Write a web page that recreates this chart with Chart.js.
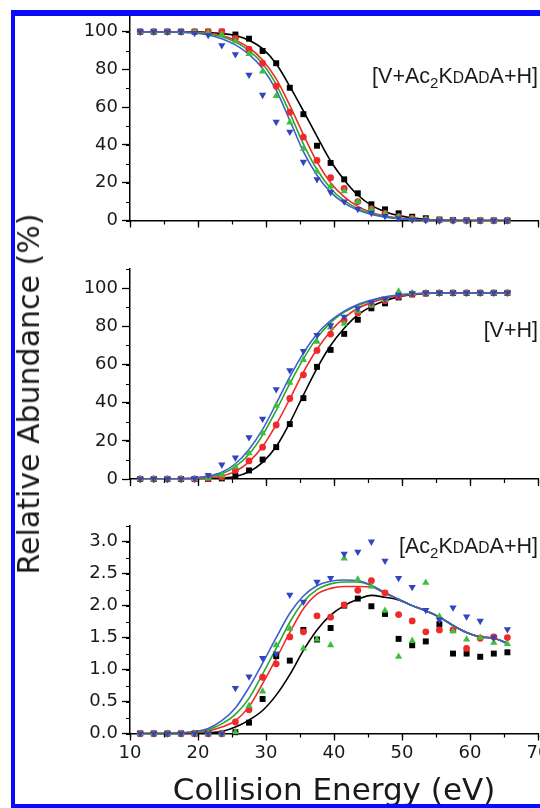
<!DOCTYPE html>
<html>
<head>
<meta charset="utf-8">
<script src="https://cdn.jsdelivr.net/npm/chart.js@4.4.1/dist/chart.umd.min.js"></script>
<style>
  html, body { margin: 0; padding: 0; background: #fff; overflow: hidden; }
  #page { position: relative; width: 540px; height: 808px; overflow: hidden; font-family: "DejaVu Sans", sans-serif; color: #1a1a1a; }
  canvas { position: absolute; left: 0; }
  .tag { position: absolute; right: 2px; font-family: "Liberation Sans", Arial, sans-serif; font-size: 21.5px; line-height: 21.5px; white-space: nowrap; }
  .tag sub { font-size: 15px; line-height: 0; vertical-align: -5px; }
  .sc { font-size: 15.6px; }
  #ytitle { position: absolute; left: 29px; top: 394px; transform: translate(-50%, -50%) rotate(-90deg); font-size: 30px; line-height: 30px; white-space: nowrap; }
  .bar { position: absolute; background: #0a0aff; }
</style>
</head>
<body>
<div id="page">
  <canvas id="c1" width="540" height="250" style="top:0"></canvas>
  <canvas id="c2" width="540" height="260" style="top:250px"></canvas>
  <canvas id="c3" width="540" height="298" style="top:510px"></canvas>

  <div class="tag" style="top:66px">[V+Ac<sub>2</sub>K<span class="sc">D</span>A<span class="sc">D</span>A+H]</div>
  <div class="tag" style="top:320px">[V+H]</div>
  <div class="tag" style="top:536px">[Ac<sub>2</sub>K<span class="sc">D</span>A<span class="sc">D</span>A+H]</div>
  <div id="ytitle">Relative Abundance (%)</div>

  <div class="bar" style="left:11px; top:10px; width:4px; height:798px"></div>
  <div class="bar" style="left:11px; top:10px; width:529px; height:6px"></div>
  <div class="bar" style="left:11px; top:804px; width:529px; height:4px"></div>
</div>

<script>
// collision energies (eV)
const energy = [11.5, 13.5, 15.5, 17.5, 19.5, 21.5, 23.5, 25.5, 27.5, 29.5, 31.5, 33.5, 35.5, 37.5,
                39.5, 41.5, 43.5, 45.5, 47.5, 49.5, 51.5, 53.5, 55.5, 57.5, 59.5, 61.5, 63.5, 65.5];

// [V+Ac2KDADA+H] - measured points
const complexSquare = [100,100,100,100,100,100,100,98.5,96.3,89.8,83.3,70.3,56.3,39.6,30.5,21.8,14.4,8.6,5.9,3.8,2.0,1.2,0.5,0.2,0.1,0,0,0];
const complexCircle = [100,100,100,100,100,100,100,96.5,90.7,83.3,71.1,57.4,44.2,31.8,22.7,17,10,6.2,3.8,2.1,1.1,0.5,0.2,0.1,0,0,0,0];
const complexUp     = [100,100,100,100,100,99.5,98.5,95,88.2,79,66,52,38,26,18,15.5,10,6,3.5,2,1,0.5,0.2,0.1,0,0,0,0];
const complexDown   = [100,100,100,100,99.3,98.2,92.8,88,77.2,66.5,52.2,47,31,21.8,15,10,6,4,2.3,1.1,0.4,0.1,0,0,0,0,0,0];
// [V+Ac2KDADA+H] - fitted curves
const complexSquareFit = [100,100,100,100,99.9,99.6,99,98,95.5,91,83,71,58,44.5,31.5,21.5,13.5,8,4.7,2.6,1.4,0.7,0.3,0.1,0,0,0,0];
const complexCircleFit = [100,100,100,99.9,99.7,99.2,98,95.5,91.5,85,75,61,45.5,31,20,12.5,7.5,4.3,2.4,1.3,0.7,0.3,0.1,0,0,0,0,0];
const complexUpFit     = [100,100,100,99.8,99.5,98.8,97.3,94.5,90,83,72,57,40.5,27,17,10.5,6.3,3.7,2.1,1.2,0.6,0.3,0.1,0,0,0,0,0];
const complexDownFit   = [100,100,99.9,99.8,99.3,98.3,96.3,93,88,80.5,69,53,36.5,24,15,9.2,5.5,3.2,1.8,1,0.5,0.2,0.1,0,0,0,0,0];

// [V+H]
const vancSquare = [0,0,0,0,0,0,0.3,1.6,4.5,10.2,16.7,28.8,42.4,58.8,67.7,76.1,83.5,89.5,92.1,95.2,96.8,97.3,97.5,97.6,97.6,97.6,97.6,97.6];
const vancCircle = [0,0,0,0,0,0.3,1,4.5,9.5,16.7,28.3,42.2,54.6,67.4,76,83.2,87,91.3,93.5,95.8,97,97.4,97.6,97.6,97.6,97.6,97.6,97.6];
const vancUp     = [0,0,0,0,0,0.5,2,6.5,13.5,24,38.5,50.5,62.5,72,79.5,81.5,88,91,94,98.3,97.6,97.6,97.6,97.6,97.6,97.6,97.6,97.6];
const vancDown   = [0,0,0,0,0.2,2,7.5,11.2,21.8,31.5,47,57,67,75.5,80.5,85,89.5,92.5,94.5,96.5,97.3,97.6,97.6,97.6,97.6,97.6,97.6,97.6];
const vancSquareFit = [0,0,0,0,0,0.2,0.5,1.3,3.8,8.7,17,29.5,44,58,70,79,86,90.5,93.5,95.5,96.6,97.2,97.5,97.6,97.6,97.6,97.6,97.6];
const vancCircleFit = [0,0,0,0,0.2,0.6,1.6,4,9,17,28.5,42,56,68,77.5,84.5,89.5,92.5,94.7,96,96.9,97.3,97.5,97.6,97.6,97.6,97.6,97.6];
const vancUpFit     = [0,0,0,0.1,0.4,1,2.7,6.5,13,23,36,50,63,74,82,87.5,91,93.5,95.3,96.4,97,97.4,97.6,97.6,97.6,97.6,97.6,97.6];
const vancDownFit   = [0,0,0,0.2,0.6,1.5,3.5,8,15.5,26,39.5,53.5,66,76,83,88,91.5,93.8,95.5,96.5,97.1,97.4,97.6,97.6,97.6,97.6,97.6,97.6];

// [Ac2KDADA+H]
const ligandSquare = [0,0,0,0,0,0,0,0.02,0.17,0.54,1.21,1.14,1.62,1.47,1.65,2.0,2.11,1.99,1.87,1.48,1.38,1.44,1.71,1.25,1.25,1.2,1.25,1.27];
const ligandCircle = [0,0,0,0,0,0,0,0.18,0.37,0.88,1.09,1.51,1.59,1.84,1.82,2.01,2.24,2.39,2.2,1.86,1.76,1.59,1.62,1.62,1.33,1.49,1.51,1.5];
const ligandUp     = [0,0,0,0,0,0,0,0.02,0.43,0.66,1.38,1.64,1.33,1.47,1.38,2.74,2.41,2.3,1.92,1.2,1.45,2.36,1.83,1.6,1.47,1.5,1.42,1.4];
const ligandDown   = [0,0,0,0,0,0,0,0.71,0.89,1.18,1.25,2.17,2.06,2.37,2.43,2.81,2.84,3.0,2.7,2.43,2.29,1.93,1.78,1.97,1.83,1.76,1.5,1.63];
const ligandSquareFit = [0,0,0,0,0,0.01,0.03,0.1,0.21,0.36,0.6,0.92,1.3,1.62,1.85,2.0,2.1,2.16,2.13,2.09,2.0,1.92,1.82,1.69,1.58,1.51,1.49,1.41];
const ligandCircleFit = [0,0,0,0,0.01,0.04,0.1,0.2,0.42,0.78,1.17,1.58,1.95,2.18,2.27,2.3,2.3,2.29,2.19,2.1,2.0,1.92,1.82,1.69,1.58,1.51,1.49,1.41];
const ligandUpFit     = [0,0,0,0.01,0.02,0.06,0.15,0.3,0.55,0.93,1.33,1.74,2.06,2.25,2.34,2.37,2.37,2.31,2.2,2.1,2.0,1.92,1.82,1.69,1.58,1.51,1.49,1.41];
const ligandDownFit   = [0,0,0,0.01,0.03,0.08,0.2,0.4,0.72,1.1,1.5,1.88,2.15,2.31,2.38,2.4,2.39,2.32,2.2,2.1,2.0,1.92,1.82,1.69,1.58,1.51,1.49,1.41];

const xTicks = [10, 20, 30, 40, 50, 60, 70];

const colBlack = '#000000';
const colRed = '#f02a2a';
const colGreen = '#3cbf3c';
const colBlue = '#3344c0';
const fitGreen = '#28a828';
const fitBlue = '#3d5fd0';

function pairs(ys) {
    return energy.map((e, i) => ({ x: e, y: ys[i] }));
}

// small ticks between the labelled ones
const minorTicks = {
    id: 'minorTicks',
    afterDraw(chart, args, opts) {
        const ctx = chart.ctx;
        ctx.save();
        ctx.strokeStyle = '#000';
        ctx.lineWidth = 1.2;
        ctx.beginPath();
        const sx = chart.scales.x;
        for (let v = sx.min; v <= sx.max + 1e-9; v += opts.x) {
            const p = Math.round(sx.getPixelForValue(v)) + 0.5;
            ctx.moveTo(p, sx.top);
            ctx.lineTo(p, sx.top + 4);
        }
        const sy = chart.scales.y;
        for (let v = sy.min; v <= sy.max + 1e-9; v += opts.y) {
            const p = Math.round(sy.getPixelForValue(v)) + 0.5;
            ctx.moveTo(sy.right, p);
            ctx.lineTo(sy.right - 4, p);
        }
        ctx.stroke();
        ctx.restore();
    }
};

function makePanel(id, pts, fits, cfg) {
    const tickFont = { family: 'DejaVu Sans', size: 18 };
    // first in the list ends up on top
    const markers = [
        { data: pts[3], style: 'triangle', r: 4.2, color: colBlue, rot: 180 },
        { data: pts[2], style: 'triangle', r: 4.2, color: colGreen, rot: 0 },
        { data: pts[1], style: 'circle', r: 3.4, color: colRed, rot: 0 },
        { data: pts[0], style: 'rect', r: 4.2, color: colBlack, rot: 0 }
    ];
    const datasets = markers.map(m => ({
        data: pairs(m.data),
        showLine: false,
        pointStyle: m.style,
        pointRadius: m.r,
        pointRotation: m.rot,
        pointBackgroundColor: m.color,
        pointBorderColor: m.color,
        pointBorderWidth: 0,
        clip: false
    }));
    const lines = [
        { data: fits[3], color: fitBlue },
        { data: fits[2], color: fitGreen },
        { data: fits[1], color: colRed },
        { data: fits[0], color: colBlack }
    ];
    lines.forEach(l => datasets.push({
        data: pairs(l.data),
        borderColor: l.color,
        borderWidth: 1.6,
        pointRadius: 0,
        cubicInterpolationMode: 'monotone',
        fill: false
    }));

    const chart = new Chart(document.getElementById(id), {
        type: 'line',
        data: { datasets: datasets },
        plugins: [minorTicks],
        options: {
            responsive: false,
            animation: false,
            devicePixelRatio: 1,
            layout: { autoPadding: false, padding: { left: 0, right: 2, top: cfg.top, bottom: cfg.bottom } },
            plugins: {
                legend: { display: false },
                tooltip: { enabled: false },
                minorTicks: { x: 5, y: cfg.minor }
            },
            scales: {
                x: {
                    type: 'linear',
                    min: 10,
                    max: 70,
                    afterBuildTicks: s => { s.ticks = xTicks.map(v => ({ value: v })); },
                    ticks: {
                        autoSkip: false,
                        maxRotation: 0,
                        padding: 2,
                        color: '#1a1a1a',
                        font: tickFont,
                        callback: v => cfg.xLabels ? String(v) : ''
                    },
                    grid: { display: true, drawOnChartArea: false, drawTicks: true, tickLength: 7, tickWidth: 1.3, tickColor: '#000' },
                    border: { display: true, color: '#000', width: 1.5 },
                    title: {
                        display: !!cfg.xTitle,
                        text: cfg.xTitle || '',
                        color: '#1a1a1a',
                        font: { family: 'DejaVu Sans', size: 31, lineHeight: 1 },
                        padding: { top: 0, bottom: 1 }
                    },
                    afterFit: s => {
                        s.height = cfg.xHeight;
                        s.paddingLeft = 0;
                        s.paddingRight = 0;
                    }
                },
                y: {
                    min: 0,
                    max: cfg.yMax,
                    ticks: {
                        stepSize: cfg.step,
                        includeBounds: false,
                        padding: 4,
                        color: '#1a1a1a',
                        font: tickFont,
                        callback: v => cfg.decimals ? v.toFixed(cfg.decimals) : String(v)
                    },
                    grid: { display: true, drawOnChartArea: false, drawTicks: true, tickLength: 8, tickWidth: 1.3, tickColor: '#000' },
                    border: { display: true, color: '#000', width: 1.5 },
                    afterFit: s => {
                        s.width = 130;
                        s.paddingTop = 0;
                        s.paddingBottom = 0;
                    }
                }
            }
        }
    });
    return chart;
}

makePanel('c1',
    [complexSquare, complexCircle, complexUp, complexDown],
    [complexSquareFit, complexCircleFit, complexUpFit, complexDownFit],
    { top: 16.6, bottom: 9.5, xHeight: 20, yMax: 108, step: 20, minor: 10, decimals: 0, xLabels: false });

makePanel('c2',
    [vancSquare, vancCircle, vancUp, vancDown],
    [vancSquareFit, vancCircleFit, vancUpFit, vancDownFit],
    { top: 19.2, bottom: 11, xHeight: 20, yMax: 110, step: 20, minor: 10, decimals: 0, xLabels: false });

makePanel('c3',
    [ligandSquare, ligandCircle, ligandUp, ligandDown],
    [ligandSquareFit, ligandCircleFit, ligandUpFit, ligandDownFit],
    { top: 15.7, bottom: 0, xHeight: 74.5, yMax: 3.25, step: 0.5, minor: 0.25, decimals: 1, xLabels: true,
      xTitle: 'Collision Energy (eV)' });
</script>
</body>
</html>
